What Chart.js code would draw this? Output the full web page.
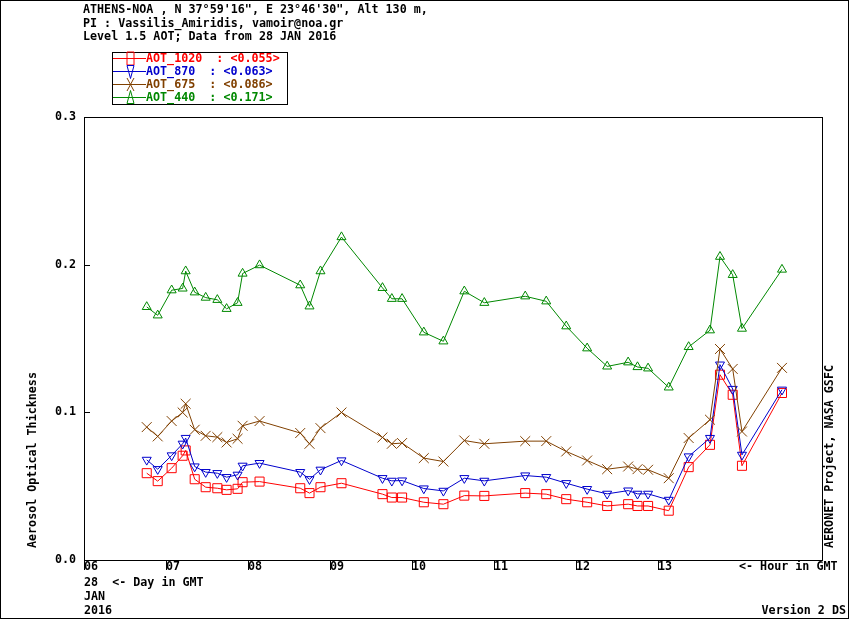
<!DOCTYPE html>
<html>
<head>
<meta charset="utf-8">
<script src="https://cdn.jsdelivr.net/npm/chart.js@4.4.0/dist/chart.umd.min.js"></script>
<style>
  html, body { margin: 0; padding: 0; background: #fff; }
  #wrap { width: 850px; height: 620px; position: relative; }
</style>
</head>
<body>
<div id="wrap"><canvas id="chart" width="850" height="620"></canvas></div>
<script>
// Hour in GMT of each measurement (28 JAN 2016)
const hours = [6.765, 6.899, 7.069, 7.203, 7.240, 7.350, 7.484, 7.626, 7.739, 7.873,
  7.934, 8.141, 8.637, 8.750, 8.884, 9.140, 9.640, 9.754, 9.879, 10.144,
  10.383, 10.638, 10.882, 11.381, 11.637, 11.881, 12.136, 12.380, 12.636, 12.750,
  12.879, 13.131, 13.374, 13.634, 13.756, 13.911, 14.024, 14.512];

const aot1020 = [0.0588, 0.0534, 0.0622, 0.0706, 0.0742, 0.0547, 0.0493, 0.0486, 0.0475, 0.0482,
  0.0527, 0.0531, 0.0486, 0.0453, 0.0493, 0.0520, 0.0446, 0.0423, 0.0423, 0.0391,
  0.0378, 0.0436, 0.0434, 0.0453, 0.0446, 0.0412, 0.0391, 0.0366, 0.0378, 0.0366,
  0.0366, 0.0334, 0.0629, 0.0780, 0.1255, 0.1119, 0.0638, 0.1131];

const aot870 = [0.0678, 0.0615, 0.0708, 0.0787, 0.0826, 0.0633, 0.0595, 0.0588, 0.0561, 0.0577,
  0.0638, 0.0656, 0.0595, 0.0547, 0.0611, 0.0674, 0.0554, 0.0536, 0.0538, 0.0484,
  0.0468, 0.0554, 0.0536, 0.0572, 0.0561, 0.0520, 0.0480, 0.0448, 0.0470, 0.0448,
  0.0448, 0.0407, 0.0701, 0.0826, 0.1323, 0.1158, 0.0712, 0.1153];

const aot675 = [0.0900, 0.0837, 0.0941, 0.0999, 0.1058, 0.0882, 0.0841, 0.0832, 0.0796, 0.0821,
  0.0909, 0.0941, 0.0860, 0.0787, 0.0893, 0.0999, 0.0830, 0.0787, 0.0792, 0.0690,
  0.0667, 0.0809, 0.0787, 0.0805, 0.0805, 0.0735, 0.0674, 0.0615, 0.0633, 0.0615,
  0.0611, 0.0554, 0.0826, 0.0950, 0.1429, 0.1294, 0.0870, 0.1301];

const aot440 = [0.1714, 0.1657, 0.1827, 0.1839, 0.1956, 0.1813, 0.1777, 0.1762, 0.1701, 0.1742,
  0.1940, 0.1997, 0.1861, 0.1718, 0.1956, 0.2187, 0.1843, 0.1769, 0.1769, 0.1542,
  0.1481, 0.1820, 0.1742, 0.1786, 0.1752, 0.1583, 0.1434, 0.1311, 0.1339, 0.1307,
  0.1298, 0.1169, 0.1443, 0.1556, 0.2054, 0.1931, 0.1567, 0.1967];

const hourTicks = [6, 7, 8, 9, 10, 11, 12, 13];
const hourLabels = ['06', '07', '08', '09', '10', '11', '12', '13'];
const yTicks = [0, 0.1, 0.2, 0.3];

const legendNames = ['AOT_1020  : <0.055>', 'AOT_870  : <0.063>', 'AOT_675  : <0.086>', 'AOT_440  : <0.171>'];

const RED = '#ff0000', BLUE = '#0000cc', BROWN = '#804000', GREEN = '#008800';
const FONT = 'bold 11.7px "DejaVu Sans Mono", "Liberation Mono", monospace';

function pts(arr) {
  return hours.map((h, i) => ({ x: h, y: arr[i] }));
}

function series(label, arr, color, style, radius, rotation) {
  return {
    label: label,
    data: pts(arr),
    borderColor: color,
    backgroundColor: 'rgba(0,0,0,0)',
    pointBorderColor: color,
    pointBackgroundColor: 'rgba(0,0,0,0)',
    borderWidth: 1,
    pointBorderWidth: 1,
    pointStyle: style,
    pointRadius: radius,
    pointRotation: rotation || 0,
    tension: 0,
    fill: false
  };
}

// small legend glyphs, stretched vertically like the original
function glyph(ctx, kind, x, y) {
  ctx.beginPath();
  if (kind === 'rect') {
    ctx.rect(x - 3.5, y - 6.5, 7, 13);
  } else if (kind === 'down') {
    ctx.moveTo(x - 3.5, y - 6); ctx.lineTo(x + 3.5, y - 6); ctx.lineTo(x, y + 7); ctx.closePath();
  } else if (kind === 'x') {
    ctx.moveTo(x - 3.5, y - 6.5); ctx.lineTo(x + 3.5, y + 6.5);
    ctx.moveTo(x + 3.5, y - 6.5); ctx.lineTo(x - 3.5, y + 6.5);
  } else {
    ctx.moveTo(x, y - 7); ctx.lineTo(x + 3.5, y + 6); ctx.lineTo(x - 3.5, y + 6); ctx.closePath();
  }
  ctx.stroke();
}

const decor = {
  id: 'decor',
  afterDraw(chart) {
    const ctx = chart.ctx;
    const a = chart.chartArea;
    const xs = chart.scales.x, ys = chart.scales.y;
    ctx.save();
    ctx.strokeStyle = '#000';
    ctx.lineWidth = 1;

    // outer frame
    ctx.strokeRect(0.5, 0.5, 848, 618);

    // plot box
    ctx.strokeRect(Math.round(a.left) + 0.5, Math.round(a.top) + 0.5,
      Math.round(a.right - a.left), Math.round(a.bottom - a.top));

    // x ticks (downwards, outside)
    ctx.beginPath();
    hourTicks.forEach(v => {
      const px = Math.round(xs.getPixelForValue(v)) + 0.5;
      ctx.moveTo(px, a.bottom); ctx.lineTo(px, a.bottom + 10);
    });
    // y ticks (inwards)
    yTicks.forEach(v => {
      const py = Math.round(ys.getPixelForValue(v)) + 0.5;
      ctx.moveTo(a.left, py); ctx.lineTo(a.left + 6, py);
    });
    ctx.stroke();

    ctx.font = FONT;
    ctx.fillStyle = '#000';
    ctx.textBaseline = 'middle';
    ctx.textAlign = 'left';

    // header
    ctx.fillText('ATHENS-NOA , N 37\u00b059\'16", E 23\u00b046\'30", Alt 130 m,', 83, 10);
    ctx.fillText('PI : Vassilis_Amiridis, vamoir@noa.gr', 83, 23.5);
    ctx.fillText('Level 1.5 AOT; Data from 28 JAN 2016', 83, 36.5);

    // footer
    ctx.fillText('28  <- Day in GMT', 84, 583);
    ctx.fillText('JAN', 84, 597);
    ctx.fillText('2016', 84, 611);
    ctx.fillText('<- Hour in GMT', 739, 567);
    ctx.textAlign = 'right';
    ctx.fillText('Version 2 DS', 846, 611);

    // rotated titles
    ctx.textAlign = 'left';
    ctx.save();
    ctx.translate(33, 548);
    ctx.rotate(-Math.PI / 2);
    ctx.fillText('Aerosol Optical Thickness', 0, 0);
    ctx.restore();
    ctx.save();
    ctx.translate(830, 548);
    ctx.rotate(-Math.PI / 2);
    ctx.fillText('AERONET Project, NASA GSFC', 0, 0);
    ctx.restore();

    // legend box
    ctx.strokeStyle = '#000';
    ctx.strokeRect(112.5, 52.5, 175, 52);
    const colors = [RED, BLUE, BROWN, GREEN];
    const kinds = ['rect', 'down', 'x', 'up'];
    colors.forEach((c, i) => {
      const y = 57.5 + i * 13.1;
      ctx.strokeStyle = c;
      ctx.beginPath();
      ctx.moveTo(113, Math.round(y) + 0.5); ctx.lineTo(146, Math.round(y) + 0.5);
      ctx.stroke();
      glyph(ctx, kinds[i], 130.5, Math.round(y) + 0.5);
      ctx.fillStyle = c;
      ctx.fillText(legendNames[i], 146, y + 1);
    });
    ctx.restore();
  }
};

const ctx = document.getElementById('chart').getContext('2d');
const chart = new Chart(ctx, {
  type: 'scatter',
  data: {
    datasets: [
      series('AOT_440', aot440, GREEN, 'triangle', 5.2, 0),
      series('AOT_675', aot675, BROWN, 'crossRot', 7, 0),
      series('AOT_870', aot870, BLUE, 'triangle', 5.2, 180),
      series('AOT_1020', aot1020, RED, 'rect', 6.4, 0)
    ]
  },
  options: {
    responsive: false,
    animation: false,
    showLine: true,
    layout: { padding: { left: 0, top: 117, right: 28, bottom: 0 } },
    plugins: {
      legend: { display: false },
      title: { display: false },
      tooltip: { enabled: false }
    },
    scales: {
      x: {
        type: 'linear',
        min: 6,
        max: 15,
        grid: { display: false, drawTicks: false },
        border: { display: false },
        afterBuildTicks: s => { s.ticks = hourTicks.map(v => ({ value: v })); },
        afterFit: s => { s.height = 60; },
        ticks: {
          autoSkip: false,
          maxRotation: 0,
          align: 'start',
          padding: 0,
          color: '#000',
          font: { family: 'DejaVu Sans Mono', size: 11.7, weight: 'bold', lineHeight: 1.2 },
          callback: v => hourLabels[hourTicks.indexOf(v)] || ''
        }
      },
      y: {
        type: 'linear',
        min: 0,
        max: 0.3,
        grid: { display: false, drawTicks: false },
        border: { display: false },
        afterBuildTicks: s => { s.ticks = yTicks.map(v => ({ value: v })); },
        afterFit: s => { s.width = 84; },
        ticks: {
          padding: 8,
          color: '#000',
          font: { family: 'DejaVu Sans Mono', size: 11.7, weight: 'bold' },
          callback: v => v.toFixed(1)
        }
      }
    }
  },
  plugins: [decor]
});
</script>
</body>
</html>
